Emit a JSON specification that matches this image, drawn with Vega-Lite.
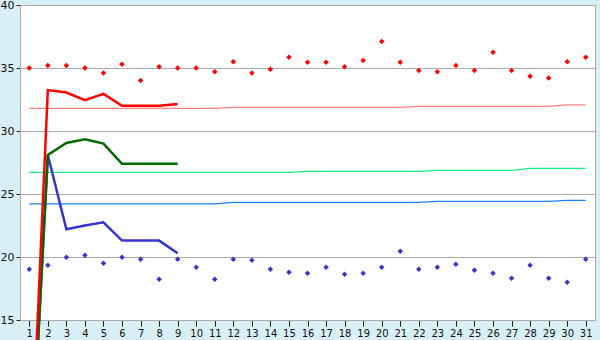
{
  "$schema": "https://vega.github.io/schema/vega-lite/v6.json",
  "width": 575,
  "height": 315,
  "autosize": "none",
  "padding": {"left": 20, "top": 5, "right": 5, "bottom": 20},
  "background": "#d9eff6",
  "config": {
    "view": {"fill": "white", "stroke": "#aaaaaa", "strokeWidth": 1},
    "axis": {"labelFont": "DejaVu Sans", "labelFontSize": 10, "labelColor": "#111111", "domainColor": "#aaaaaa", "tickColor": "#222222", "title": null}
  },
  "datasets": {
    "thin": [
      {"s": "p", "day": 1, "v": 31.8}, {"s": "p", "day": 11, "v": 31.8}, {"s": "p", "day": 12, "v": 31.88}, {"s": "p", "day": 21, "v": 31.88}, {"s": "p", "day": 22, "v": 31.96}, {"s": "p", "day": 29, "v": 31.96}, {"s": "p", "day": 30, "v": 32.07}, {"s": "p", "day": 31, "v": 32.07},
      {"s": "g", "day": 1, "v": 26.72}, {"s": "g", "day": 15, "v": 26.72}, {"s": "g", "day": 16, "v": 26.8}, {"s": "g", "day": 22, "v": 26.8}, {"s": "g", "day": 23, "v": 26.88}, {"s": "g", "day": 27, "v": 26.88}, {"s": "g", "day": 28, "v": 27.04}, {"s": "g", "day": 31, "v": 27.04},
      {"s": "b", "day": 1, "v": 24.21}, {"s": "b", "day": 11, "v": 24.21}, {"s": "b", "day": 12, "v": 24.34}, {"s": "b", "day": 22, "v": 24.34}, {"s": "b", "day": 23, "v": 24.42}, {"s": "b", "day": 29, "v": 24.42}, {"s": "b", "day": 30, "v": 24.5}, {"s": "b", "day": 31, "v": 24.5}
    ],
    "thick": [
      {"s": "1b", "day": 1, "v": 0}, {"s": "1b", "day": 2, "v": 28.1}, {"s": "1b", "day": 3, "v": 22.2}, {"s": "1b", "day": 4, "v": 22.5}, {"s": "1b", "day": 5, "v": 22.75}, {"s": "1b", "day": 6, "v": 21.3}, {"s": "1b", "day": 7, "v": 21.3}, {"s": "1b", "day": 8, "v": 21.3}, {"s": "1b", "day": 9, "v": 20.3},
      {"s": "2g", "day": 1, "v": 0}, {"s": "2g", "day": 2, "v": 28.1}, {"s": "2g", "day": 3, "v": 29.05}, {"s": "2g", "day": 4, "v": 29.35}, {"s": "2g", "day": 5, "v": 29.0}, {"s": "2g", "day": 6, "v": 27.4}, {"s": "2g", "day": 7, "v": 27.4}, {"s": "2g", "day": 8, "v": 27.4}, {"s": "2g", "day": 9, "v": 27.4},
      {"s": "3r", "day": 1, "v": 0}, {"s": "3r", "day": 2, "v": 33.25}, {"s": "3r", "day": 3, "v": 33.05}, {"s": "3r", "day": 4, "v": 32.45}, {"s": "3r", "day": 5, "v": 32.95}, {"s": "3r", "day": 6, "v": 32.0}, {"s": "3r", "day": 7, "v": 32.0}, {"s": "3r", "day": 8, "v": 32.0}, {"s": "3r", "day": 9, "v": 32.15}
    ],
    "pts": [
      {"s": "r", "day": 1, "v": 35.0}, {"s": "r", "day": 2, "v": 35.2}, {"s": "r", "day": 3, "v": 35.2}, {"s": "r", "day": 4, "v": 35.0}, {"s": "r", "day": 5, "v": 34.6}, {"s": "r", "day": 6, "v": 35.3}, {"s": "r", "day": 7, "v": 34.0}, {"s": "r", "day": 8, "v": 35.1}, {"s": "r", "day": 9, "v": 35.0}, {"s": "r", "day": 10, "v": 35.0},
      {"s": "r", "day": 11, "v": 34.7}, {"s": "r", "day": 12, "v": 35.5}, {"s": "r", "day": 13, "v": 34.6}, {"s": "r", "day": 14, "v": 34.9}, {"s": "r", "day": 15, "v": 35.85}, {"s": "r", "day": 16, "v": 35.45}, {"s": "r", "day": 17, "v": 35.45}, {"s": "r", "day": 18, "v": 35.1}, {"s": "r", "day": 19, "v": 35.6}, {"s": "r", "day": 20, "v": 37.1},
      {"s": "r", "day": 21, "v": 35.45}, {"s": "r", "day": 22, "v": 34.8}, {"s": "r", "day": 23, "v": 34.7}, {"s": "r", "day": 24, "v": 35.2}, {"s": "r", "day": 25, "v": 34.8}, {"s": "r", "day": 26, "v": 36.25}, {"s": "r", "day": 27, "v": 34.8}, {"s": "r", "day": 28, "v": 34.35}, {"s": "r", "day": 29, "v": 34.2}, {"s": "r", "day": 30, "v": 35.5}, {"s": "r", "day": 31, "v": 35.85},
      {"s": "b", "day": 1, "v": 19.02}, {"s": "b", "day": 2, "v": 19.34}, {"s": "b", "day": 3, "v": 19.98}, {"s": "b", "day": 4, "v": 20.13}, {"s": "b", "day": 5, "v": 19.5}, {"s": "b", "day": 6, "v": 19.98}, {"s": "b", "day": 7, "v": 19.82}, {"s": "b", "day": 8, "v": 18.23}, {"s": "b", "day": 9, "v": 19.82}, {"s": "b", "day": 10, "v": 19.18},
      {"s": "b", "day": 11, "v": 18.23}, {"s": "b", "day": 12, "v": 19.82}, {"s": "b", "day": 13, "v": 19.74}, {"s": "b", "day": 14, "v": 19.02}, {"s": "b", "day": 15, "v": 18.79}, {"s": "b", "day": 16, "v": 18.71}, {"s": "b", "day": 17, "v": 19.18}, {"s": "b", "day": 18, "v": 18.63}, {"s": "b", "day": 19, "v": 18.71}, {"s": "b", "day": 20, "v": 19.18},
      {"s": "b", "day": 21, "v": 20.45}, {"s": "b", "day": 22, "v": 19.02}, {"s": "b", "day": 23, "v": 19.18}, {"s": "b", "day": 24, "v": 19.42}, {"s": "b", "day": 25, "v": 18.94}, {"s": "b", "day": 26, "v": 18.71}, {"s": "b", "day": 27, "v": 18.31}, {"s": "b", "day": 28, "v": 19.34}, {"s": "b", "day": 29, "v": 18.31}, {"s": "b", "day": 30, "v": 17.99}, {"s": "b", "day": 31, "v": 19.82}
    ]
  },
  "encoding": {
    "x": {"field": "day", "type": "quantitative", "scale": {"domain": [0.5, 31.5], "nice": false, "zero": false},
      "axis": {"values": [1,2,3,4,5,6,7,8,9,10,11,12,13,14,15,16,17,18,19,20,21,22,23,24,25,26,27,28,29,30,31], "grid": false, "tickSize": 6, "labelPadding": 2, "labelFlush": false, "labelOverlap": false}},
    "y": {"field": "v", "type": "quantitative", "scale": {"domain": [15, 40], "nice": false, "zero": false},
      "axis": {"values": [15, 20, 25, 30, 35, 40], "grid": true, "gridColor": "#aaaaaa", "gridOpacity": 1, "tickSize": 4, "labelPadding": 2, "labelFontSize": 11, "labelFlush": false}}
  },
  "layer": [
    {
      "data": {"name": "thin"},
      "mark": {"type": "line", "strokeWidth": 1.2, "interpolate": "linear"},
      "encoding": {"color": {"field": "s", "type": "nominal", "scale": {"domain": ["p", "g", "b"], "range": ["#ff8080", "#14f080", "#1a80ff"]}, "legend": null}}
    },
    {
      "data": {"name": "thick"},
      "mark": {"type": "line", "strokeWidth": 2.5, "clip": false},
      "encoding": {"color": {"field": "s", "type": "nominal", "scale": {"domain": ["1b", "2g", "3r"], "range": ["#3535cc", "#006a00", "#ff0000"]}, "legend": null}, "order": {"field": "day"}}
    },
    {
      "data": {"name": "pts"},
      "mark": {"type": "point", "shape": "diamond", "filled": true, "size": 30, "opacity": 1},
      "encoding": {"color": {"field": "s", "type": "nominal", "scale": {"domain": ["r", "b"], "range": ["#ff0000", "#3535cc"]}, "legend": null}}
    }
  ],
  "resolve": {"scale": {"color": "independent"}}
}
